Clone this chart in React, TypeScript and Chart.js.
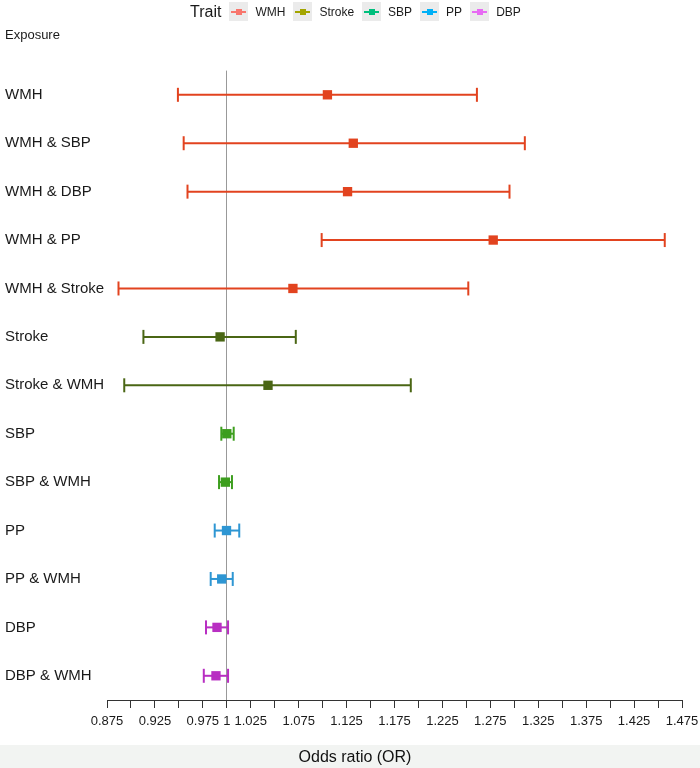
import React, { useEffect, useRef } from "react";
import { Chart, registerables } from "chart.js";

Chart.register(...registerables);

const exposures = [
  "WMH",
  "WMH & SBP",
  "WMH & DBP",
  "WMH & PP",
  "WMH & Stroke",
  "Stroke",
  "Stroke & WMH",
  "SBP",
  "SBP & WMH",
  "PP",
  "PP & WMH",
  "DBP",
  "DBP & WMH",
];
const rowTrait = ["WMH", "WMH", "WMH", "WMH", "WMH", "Stroke", "Stroke", "SBP", "SBP", "PP", "PP", "DBP", "DBP"];
const oddsRatio = [1.105, 1.132, 1.126, 1.278, 1.069, 0.993, 1.043, 1.0, 0.9985, 0.9997, 0.9947, 0.9898, 0.9887];
const lowerCI = [0.949, 0.955, 0.959, 1.099, 0.887, 0.913, 0.893, 0.9943, 0.9919, 0.9874, 0.9832, 0.9783, 0.976];
const upperCI = [1.261, 1.311, 1.295, 1.457, 1.252, 1.072, 1.192, 1.0072, 1.0054, 1.013, 1.0062, 1.0013, 1.0013];

const traits = ["WMH", "Stroke", "SBP", "PP", "DBP"];
const traitPlotColors = ["#E2431F", "#4A6614", "#3D9E1E", "#2E96D3", "#B82FC2"];
const traitLegendColors = ["#F8766D", "#A3A500", "#00BF7D", "#00B0F6", "#E76BF3"];

const xTickValues = [
  0.875, 0.9, 0.925, 0.95, 0.975, 1.0, 1.025, 1.05, 1.075, 1.1, 1.125, 1.15, 1.175, 1.2, 1.225, 1.25, 1.275, 1.3,
  1.325, 1.35, 1.375, 1.4, 1.425, 1.45, 1.475,
];
const xTickLabels = [
  "0.875", "", "0.925", "", "0.975", "1", "1.025", "", "1.075", "", "1.125", "", "1.175", "", "1.225", "", "1.275", "",
  "1.325", "", "1.375", "", "1.425", "", "1.475",
];

const FONT = "'Liberation Sans', Arial, Helvetica, sans-serif";

export default function App() {
  const canvasRef = useRef<HTMLCanvasElement>(null);

  useEffect(() => {
    if (!canvasRef.current) return;
    const colorOf = (t: string) => traitPlotColors[traits.indexOf(t)];

    const barSets = exposures.map((name, i) => {
      const c = colorOf(rowTrait[i]);
      return {
        label: name + " CI",
        data: [
          { x: lowerCI[i], y: i },
          { x: upperCI[i], y: i },
        ],
        showLine: true,
        borderColor: c,
        borderWidth: 2,
        pointStyle: "line",
        pointRotation: 90,
        pointRadius: 7,
        pointBorderWidth: 2,
        pointBorderColor: c,
        pointBackgroundColor: c,
        clip: false,
      };
    });

    const estSet = {
      label: "OR",
      data: exposures.map((_, i) => ({ x: oddsRatio[i], y: i })),
      showLine: false,
      pointStyle: "rect",
      pointRadius: 6.6,
      pointBorderWidth: 0,
      pointBackgroundColor: exposures.map((_, i) => colorOf(rowTrait[i])),
      pointBorderColor: exposures.map((_, i) => colorOf(rowTrait[i])),
      clip: false,
    };

    const chart = new Chart(canvasRef.current, {
      type: "scatter",
      data: { datasets: [...barSets, estSet] as any },
      options: {
        animation: false,
        responsive: false,
        maintainAspectRatio: false,
        layout: { padding: { top: 28, left: 5, right: 18, bottom: 23 } },
        plugins: {
          legend: { display: false },
          tooltip: { enabled: false },
          subtitle: {
            display: true,
            text: "Exposure",
            align: "start",
            position: "top",
            color: "#1a1a1a",
            font: { family: FONT, size: 13 },
            padding: { top: 0, bottom: 27 },
          },
        },
        scales: {
          x: {
            type: "linear",
            min: 0.875,
            max: 1.475,
            afterBuildTicks: (scale: any) => {
              scale.ticks = xTickValues.map((v) => ({ value: v }));
            },
            afterFit: (scale: any) => {
              scale.height = 45;
              scale.paddingLeft = 0;
              scale.paddingRight = 0;
            },
            ticks: {
              autoSkip: false,
              maxRotation: 0,
              minRotation: 0,
              padding: 6,
              color: "#1a1a1a",
              font: { family: FONT, size: 13 },
              callback: (_v: any, i: number) => xTickLabels[i],
            },
            grid: {
              drawOnChartArea: true,
              drawTicks: true,
              tickLength: 8,
              tickColor: "#333333",
              lineWidth: 1,
              color: (ctx: any) =>
                ctx.tick && Math.abs(ctx.tick.value - 1) < 1e-9 ? "#999999" : "rgba(0,0,0,0)",
            },
            border: { display: true, color: "#333333", width: 1 },
          },
          y: {
            type: "linear",
            reverse: true,
            min: -0.5,
            max: 12.5,
            afterBuildTicks: (scale: any) => {
              scale.ticks = exposures.map((_, i) => ({ value: i }));
            },
            afterFit: (scale: any) => {
              scale.width = 102;
            },
            ticks: {
              autoSkip: false,
              crossAlign: "far",
              color: "#1a1a1a",
              font: { family: FONT, size: 15 },
              callback: (v: any) => exposures[Math.round(Number(v))] ?? "",
            },
            grid: { display: false },
            border: { display: false },
          },
        },
      } as any,
    });
    return () => chart.destroy();
  }, []);

  return (
    <div
      style={{
        position: "absolute",
        left: 0,
        top: 0,
        width: 700,
        height: 768,
        background: "#ffffff",
        fontFamily: FONT,
      }}
    >
      <canvas ref={canvasRef} width={700} height={768} style={{ display: "block", width: 700, height: 768 }} />
      <div
        style={{
          position: "absolute",
          left: 190,
          top: 2,
          height: 19,
          display: "flex",
          alignItems: "center",
          color: "#1a1a1a",
          whiteSpace: "nowrap",
        }}
      >
        <span style={{ fontSize: 16, marginRight: 8 }}>Trait</span>
        {traits.map((t, k) => (
          <React.Fragment key={t}>
            <span
              style={{
                position: "relative",
                width: 19,
                height: 19,
                background: "#EBEBEB",
                marginRight: 7,
                display: "inline-block",
              }}
            >
              <span
                style={{
                  position: "absolute",
                  left: 2,
                  right: 2,
                  top: 9,
                  height: 1.5,
                  background: traitLegendColors[k],
                }}
              />
              <span
                style={{
                  position: "absolute",
                  left: 6.5,
                  top: 6.5,
                  width: 6,
                  height: 6,
                  background: traitLegendColors[k],
                }}
              />
            </span>
            <span style={{ fontSize: 12, marginRight: 8 }}>{t}</span>
          </React.Fragment>
        ))}
      </div>
      <div
        style={{
          position: "absolute",
          left: 0,
          top: 745,
          width: 700,
          height: 23,
          background: "#F2F4F2",
        }}
      />
      <div
        style={{
          position: "absolute",
          left: 0,
          top: 745,
          width: 710,
          height: 23,
          lineHeight: "23px",
          textAlign: "center",
          fontSize: 16,
          color: "#111111",
        }}
      >
        Odds ratio (OR)
      </div>
    </div>
  );
}
